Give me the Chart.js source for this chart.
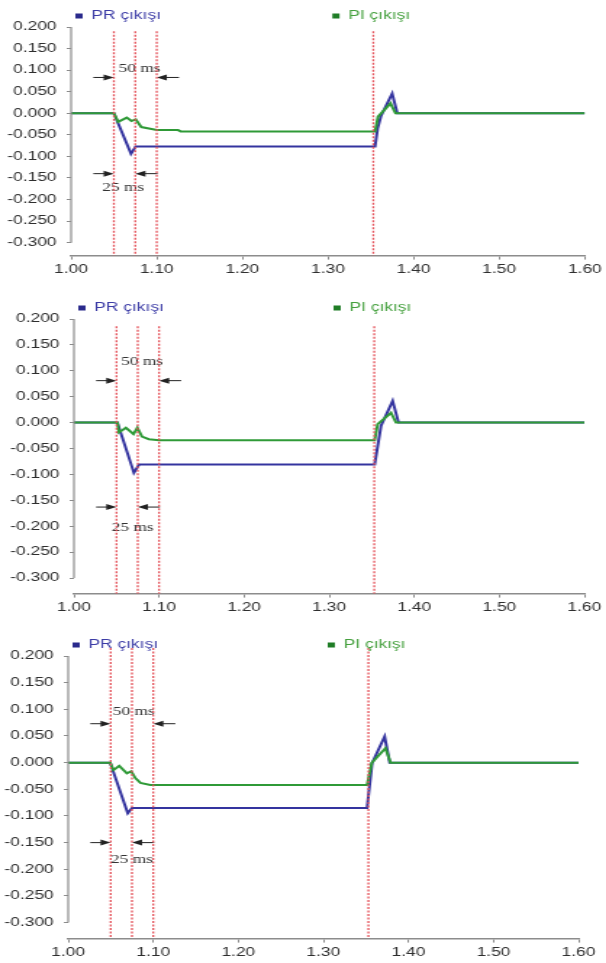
<!DOCTYPE html>
<html>
<head>
<meta charset="utf-8">
<title>PR / PI çıkışı</title>
<script src="https://cdn.jsdelivr.net/npm/chart.js@4.4.1/dist/chart.umd.min.js"></script>
<style>
    body
    {
        margin: 0;
        width: 606px;
        height: 963px;
        background: #fff;
        position: relative;
        overflow: hidden;
    }

    /* the original picture is stretched sideways, so are the canvases */
    canvas
    {
        position: absolute;
        left: 0;
        transform: scaleX(1.45);
        transform-origin: 0 0;
    }

    #chart1 { top: 0; }
    #chart2 { top: 292px; }
    #chart3 { top: 628px; }
</style>
</head>
<body>
<canvas id="chart1" width="418" height="282"></canvas>
<canvas id="chart2" width="418" height="328"></canvas>
<canvas id="chart3" width="418" height="335"></canvas>

<script>
const xTicks = [1.00, 1.10, 1.20, 1.30, 1.40, 1.50, 1.60];
const yTicks = [0.200, 0.150, 0.100, 0.050, 0.000, -0.050, -0.100, -0.150, -0.200, -0.250, -0.300];
const seriesNames = ['PR çıkışı', 'PI çıkışı'];
const markerTimes = [1.05, 1.075, 1.10, 1.353];
const spanLabels = ['50 ms', '25 ms'];
const spanFrom = [1.05, 1.05];
const spanTo = [1.10, 1.075];

// Grafik 1
const prTime1 = [1.00, 1.05, 1.07, 1.0755, 1.355, 1.358, 1.362, 1.375, 1.381, 1.60];
const prValue1 = [0, 0, -0.094, -0.077, -0.077, -0.035, -0.006, 0.046, 0, 0];
const piTime1 = [1.00, 1.05, 1.055, 1.065, 1.0705, 1.0755, 1.082, 1.10, 1.125, 1.128, 1.355, 1.3585, 1.373, 1.379, 1.60];
const piValue1 = [0, 0, -0.020, -0.010, -0.018, -0.014, -0.032, -0.039, -0.039, -0.042, -0.042, -0.008, 0.023, 0, 0];

// Grafik 2
const prTime2 = [1.00, 1.051, 1.0705, 1.0765, 1.3535, 1.361, 1.3746, 1.3816, 1.60];
const prValue2 = [0, 0, -0.097, -0.081, -0.081, -0.006, 0.042, 0, 0];
const piTime2 = [1.00, 1.051, 1.053, 1.061, 1.070, 1.0745, 1.080, 1.088, 1.10, 1.3535, 1.357, 1.3727, 1.3786, 1.60];
const piValue2 = [0, 0, -0.019, -0.010, -0.022, -0.010, -0.027, -0.032, -0.034, -0.034, -0.003, 0.019, 0, 0];

// Grafik 3
const prTime3 = [1.00, 1.0494, 1.070, 1.075, 1.3514, 1.3573, 1.372, 1.378, 1.60];
const prValue3 = [0, 0, -0.095, -0.085, -0.085, -0.001, 0.049, 0, 0];
const piTime3 = [1.00, 1.0494, 1.0533, 1.060, 1.069, 1.0741, 1.079, 1.085, 1.0965, 1.3514, 1.357, 1.373, 1.379, 1.60];
const piValue3 = [0, 0, -0.014, -0.006, -0.020, -0.016, -0.029, -0.038, -0.042, -0.042, 0, 0.027, 0, 0];

const prColor = '#34349f';
const piColor = '#2f9a37';
const markerColor = '#e4525a';
const axisColor = '#8c8c8c';
const textColor = '#2e2e2e';
const yMin = -0.33;

const panels = [
    {
        canvas: 'chart1', pr: [prTime1, prValue1], pi: [piTime1, piValue1], markerTop: 0.19,
        arrowY: [0.083, -0.140], textY: [0.102, -0.173], textX: [1.080, 1.061],
        padding: { top: 27, left: 3, right: 13, bottom: 2 }, yWidth: 46
    },
    {
        canvas: 'chart2', pr: [prTime2, prValue2], pi: [piTime2, piValue2], markerTop: 0.186,
        arrowY: [0.081, -0.163], textY: [0.118, -0.203], textX: [1.080, 1.069],
        padding: { top: 27, left: 3, right: 15, bottom: 2 }, yWidth: 48
    },
    {
        canvas: 'chart3', pr: [prTime3, prValue3], pi: [piTime3, piValue3], markerTop: 0.215,
        arrowY: [0.073, -0.150], textY: [0.096, -0.183], textX: [1.077, 1.075],
        padding: { top: 28, left: 3, right: 19, bottom: 0 }, yWidth: 44
    }
];

Chart.defaults.font.family = '"Liberation Sans", Arial, sans-serif';
Chart.defaults.font.size = 12;
Chart.defaults.color = textColor;

function toPoints(times, values)
{
    return times.map((t, i) => ({ x: t, y: values[i] }));
}

// vertical axis line only spans the labelled range
const yAxisLine = {
    id: 'yAxisLine',
    afterDraw(chart)
    {
        const { ctx, chartArea, scales } = chart;
        ctx.save();
        ctx.strokeStyle = axisColor;
        ctx.lineWidth = 1.2;
        ctx.beginPath();
        ctx.moveTo(chartArea.left, scales.y.getPixelForValue(yTicks[0]));
        ctx.lineTo(chartArea.left, scales.y.getPixelForValue(yTicks[yTicks.length - 1]));
        ctx.stroke();
        ctx.restore();
    }
};

const topLegend = {
    id: 'topLegend',
    afterDraw(chart)
    {
        const { ctx, chartArea } = chart;
        const y = chartArea.top - 11;
        const items = [
            { x: chartArea.left + 3, box: '#2a2a8c', text: '#3c3ca6', label: seriesNames[0] },
            { x: (chartArea.left + chartArea.right) / 2 + 3, box: '#1f7d26', text: '#45a03e', label: seriesNames[1] }
        ];
        ctx.save();
        ctx.font = '12px "Liberation Sans", Arial, sans-serif';
        ctx.textBaseline = 'middle';
        items.forEach(item =>
        {
            ctx.fillStyle = item.box;
            ctx.fillRect(item.x, y - 2.5, 5, 5);
            ctx.fillStyle = item.text;
            ctx.fillText(item.label, item.x + 11, y);
        });
        ctx.restore();
    }
};

function drawArrow(ctx, fromX, toX, y)
{
    const dir = Math.sign(toX - fromX);
    ctx.beginPath();
    ctx.moveTo(fromX, y);
    ctx.lineTo(toX - dir * 6, y);
    ctx.stroke();
    ctx.beginPath();
    ctx.moveTo(toX, y);
    ctx.lineTo(toX - dir * 7, y - 3);
    ctx.lineTo(toX - dir * 7, y + 3);
    ctx.closePath();
    ctx.fill();
}

const spanMarks = {
    id: 'spanMarks',
    beforeDatasetsDraw(chart, args, opts)
    {
        const { ctx, scales: { x, y } } = chart;
        ctx.save();
        ctx.strokeStyle = '#222';
        ctx.lineWidth = 1;
        spanLabels.forEach((label, i) =>
        {
            const ay = y.getPixelForValue(opts.arrowY[i]);
            ctx.fillStyle = '#222';
            drawArrow(ctx, x.getPixelForValue(spanFrom[i] - 0.024), x.getPixelForValue(spanFrom[i]), ay);
            drawArrow(ctx, x.getPixelForValue(spanTo[i] + 0.026), x.getPixelForValue(spanTo[i]), ay);
            ctx.font = '12px "Liberation Serif", "Times New Roman", serif';
            ctx.fillStyle = '#333';
            ctx.textAlign = 'center';
            ctx.textBaseline = 'middle';
            ctx.fillText(label, x.getPixelForValue(opts.textX[i]), y.getPixelForValue(opts.textY[i]));
        });
        ctx.restore();
    }
};

function buildChart(panel)
{
    const markerSets = markerTimes.map(t => ({
        data: [{ x: t, y: panel.markerTop }, { x: t, y: yMin }],
        borderColor: markerColor,
        borderWidth: 1.3,
        borderDash: [2, 1.5],
        pointRadius: 0,
        clip: false,
        order: 0
    }));

    const ctx = document.getElementById(panel.canvas).getContext('2d');
    return new Chart(ctx, {
        type: 'line',
        data: {
            datasets: [
                ...markerSets,
                {
                    label: seriesNames[1],
                    data: toPoints(panel.pi[0], panel.pi[1]),
                    borderColor: piColor,
                    borderWidth: 2,
                    pointRadius: 0,
                    tension: 0,
                    order: 1
                },
                {
                    label: seriesNames[0],
                    data: toPoints(panel.pr[0], panel.pr[1]),
                    borderColor: prColor,
                    borderWidth: 2,
                    pointRadius: 0,
                    tension: 0,
                    order: 2
                }
            ]
        },
        options: {
            responsive: false,
            animation: false,
            devicePixelRatio: 1,
            layout: { padding: panel.padding },
            plugins: {
                legend: { display: false },
                tooltip: { enabled: false },
                spanMarks: { arrowY: panel.arrowY, textY: panel.textY, textX: panel.textX }
            },
            scales: {
                x: {
                    type: 'linear',
                    min: xTicks[0],
                    max: xTicks[xTicks.length - 1],
                    afterBuildTicks: scale =>
                    {
                        scale.ticks = xTicks.map(v => ({ value: v }));
                    },
                    grid: { drawOnChartArea: false, tickLength: 4, color: axisColor },
                    border: { color: axisColor, width: 1.5 },
                    ticks: {
                        padding: 3,
                        maxRotation: 0,
                        autoSkip: false,
                        callback: v => v.toFixed(2)
                    }
                },
                y: {
                    min: yMin,
                    max: yTicks[0],
                    afterBuildTicks: scale =>
                    {
                        scale.ticks = yTicks.map(v => ({ value: v }));
                    },
                    afterFit: scale =>
                    {
                        scale.width = panel.yWidth;
                    },
                    grid: { drawOnChartArea: false, tickLength: 3, color: axisColor },
                    border: { display: false },
                    ticks: {
                        padding: 7,
                        callback: v => v.toFixed(3)
                    }
                }
            }
        },
        plugins: [yAxisLine, topLegend, spanMarks]
    });
}

document.addEventListener('DOMContentLoaded', () =>
{
    panels.forEach(buildChart);
});
</script>
</body>
</html>
